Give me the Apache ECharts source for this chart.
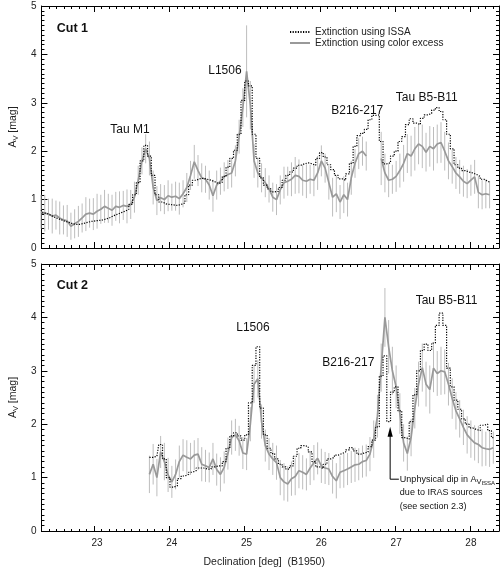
<!DOCTYPE html>
<html>
<head>
<meta charset="utf-8">
<script src="https://cdn.jsdelivr.net/npm/echarts@6/dist/echarts.min.js"></script>
<style>
  html, body { margin: 0; padding: 0; background: #fff; }
  #chart { width: 503px; height: 569px; }
</style>
</head>
<body>
<div id="chart"></div>
<script>
// sampling grid along the cut, declination (deg, B1950)
const decStep = 0.05;
const dec1Start = 22.25;
const dec2Start = 23.70;

// Cut 1: A_V from ISSA (dotted) and from color excess (grey, with errors)
const issa1 = [
  0.78, 0.72, 0.68, 0.64, 0.61, 0.58, 0.55, 0.53, 0.50, 0.49,
  0.49, 0.51, 0.53, 0.55, 0.56, 0.57, 0.58, 0.60, 0.63, 0.67,
  0.70, 0.73, 0.76, 0.80, 0.90, 1.10, 1.35, 1.80, 2.12, 1.90,
  1.50, 1.10, 0.95, 0.91, 0.90, 0.89, 0.88, 0.90, 0.93, 1.10,
  1.30, 1.40, 1.43, 1.44, 1.42, 1.40, 1.37, 1.33, 1.36, 1.48,
  1.67, 1.85, 2.02, 2.35, 3.05, 3.45, 3.35, 2.35, 1.85, 1.45,
  1.30, 1.22, 1.16, 1.17, 1.25, 1.40, 1.50, 1.57, 1.65, 1.71,
  1.74, 1.76, 1.74, 1.71, 1.85, 1.97, 1.88, 1.72, 1.62, 1.50,
  1.43, 1.40, 1.53, 1.75, 2.10, 2.32, 2.37, 2.45, 2.65, 2.74,
  2.75, 2.20, 1.74, 1.76, 1.90, 2.00, 2.20, 2.30, 2.55, 2.67,
  2.58, 2.55, 2.68, 2.75, 2.78, 2.85, 2.90, 2.82, 2.65, 2.35,
  2.05, 1.72, 1.65, 1.60, 1.57, 1.55, 1.52, 1.48, 1.42, 1.38,
  1.36
];
const cx1 = [
  0.75, 0.72, 0.70, 0.66, 0.68, 0.62, 0.58, 0.56, 0.45, 0.50,
  0.55, 0.62, 0.70, 0.72, 0.70, 0.76, 0.80, 0.86, 0.82, 0.78,
  0.86, 0.84, 0.88, 0.86, 0.90, 1.05, 1.40, 1.80, 2.05, 1.85,
  1.25, 0.98, 1.04, 1.00, 1.08, 1.05, 1.07, 1.02, 1.12, 1.25,
  1.50, 1.78, 1.60, 1.45, 1.42, 1.30, 1.08, 1.30, 1.38, 1.47,
  1.52, 1.55, 1.80, 2.30, 2.90, 3.65, 2.95, 1.80, 1.55, 1.45,
  1.35, 1.22, 1.05, 1.00, 1.20, 1.35, 1.38, 1.42, 1.50, 1.48,
  1.40, 1.38, 1.42, 1.40, 1.55, 1.80, 1.65, 1.35, 1.05, 1.12,
  0.95, 1.10, 1.00, 1.45, 1.75, 1.95, 2.00, 1.90, null, null,
  null, 1.85, 1.55, 1.40, 1.42, 1.48, 1.60, 1.75, 1.95, 1.90,
  2.05, 2.15, 2.10, 1.98, 2.10, 2.05, 2.15, 2.18, 2.00, 1.80,
  1.68, 1.55, 1.47, 1.38, 1.33, 1.40, 1.47, 1.15, 1.10, 1.12,
  1.10
];
const err1 = [
  0.35, 0.38, 0.32, 0.36, 0.30, 0.34, 0.30, 0.33, 0.28, 0.30,
  0.32, 0.30, 0.35, 0.30, 0.33, 0.36, 0.30, 0.34, 0.30, 0.32,
  0.30, 0.33, 0.30, 0.35, 0.30, 0.32, 0.30, 0.28, 0.30, 0.35,
  0.35, 0.30, 0.28, 0.30, 0.32, 0.28, 0.30, 0.33, 0.28, 0.30,
  0.30, 0.35, 0.32, 0.30, 0.28, 0.30, 0.33, 0.30, 0.28, 0.30,
  0.30, 0.30, 0.32, 0.35, 0.40, 0.95, 0.50, 0.35, 0.30, 0.30,
  0.30, 0.28, 0.30, 0.32, 0.30, 0.33, 0.30, 0.35, 0.38, 0.35,
  0.32, 0.35, 0.30, 0.33, 0.35, 0.32, 0.30, 0.35, 0.40, 0.38,
  0.35, 0.38, 0.35, 0.35, 0.30, 0.32, 0.30, 0.30, 0.30, 0.30,
  0.30, 0.55, 0.40, 0.35, 0.30, 0.32, 0.35, 0.38, 0.40, 0.42,
  0.45, 0.42, 0.45, 0.40, 0.42, 0.45, 0.40, 0.42, 0.40, 0.38,
  0.35, 0.33, 0.35, 0.32, 0.30, 0.32, 0.35, 0.33, 0.30, 0.30,
  0.28
];

// Cut 2
const issa2 = [
  1.38, 1.38, 1.40, 1.62, 1.35, 1.00, 0.82, 0.85, 0.98, 1.03,
  1.06, 1.10, 1.13, 1.18, 1.18, 1.16, 1.16, 1.20, 1.22, 1.22,
  1.30, 1.55, 1.78, 1.84, 1.78, 1.70, 1.80, 2.40, 3.10, 3.45,
  2.30, 1.80, 1.55, 1.45, 1.35, 1.25, 1.20, 1.16, 1.22, 1.40,
  1.55, 1.60, 1.58, 1.48, 1.30, 1.20, 1.17, 1.25, 1.35, 1.38,
  1.42, 1.45, 1.48, 1.52, 1.56, 1.50, 1.44, 1.46, 1.48, 1.58,
  1.70, 1.95, 2.90, 3.28, 2.05, 2.60, 2.70, 2.25, 1.75, 1.72,
  2.05, 2.55, 3.00, 3.38, 3.50, 3.38, 3.52, 3.85, 4.08, 3.85,
  3.05, 2.70, 2.45, 2.28, 2.10, 2.00, 1.93, 1.90, 1.88, 1.98,
  2.00, 1.88, 1.75
];
const cx2 = [
  1.06, 1.25, 1.00, 1.48, 1.30, 1.05, 0.92, 1.06, 1.30, 1.42,
  1.38, 1.35, 1.42, 1.44, 1.25, 1.22, 1.19, 1.35, 1.15, 1.06,
  1.19, 1.45, 1.75, 1.80, 1.69, 1.46, 1.44, 2.00, 2.75, 2.85,
  2.05, 1.60, 1.44, 1.35, 1.28, 1.00, 0.92, 0.88, 0.98, 1.02,
  1.13, 1.10, 1.06, 1.18, 1.28, 1.36, 1.22, 1.18, 1.16, 1.02,
  0.94, 1.10, 1.13, 1.16, 1.20, 1.24, 1.25, 1.30, 1.32, 1.44,
  1.72, 2.15, 3.06, 4.00, 3.45, 3.00, 2.70, 2.20, 1.65, 1.45,
  1.75, 2.30, 2.75, 3.06, 2.75, 2.65, 3.05, 2.95, 3.00, 2.98,
  2.75, 2.48, 2.25, 2.10, 1.94, 1.80, 1.72, 1.65, 1.62, 1.56,
  1.54, 1.53, 1.56
];
const err2 = [
  0.35, 0.38, 0.35, 0.30, 0.35, 0.32, 0.30, 0.28, 0.30, 0.30,
  0.32, 0.30, 0.28, 0.30, 0.32, 0.30, 0.28, 0.30, 0.30, 0.32,
  0.30, 0.30, 0.32, 0.30, 0.28, 0.30, 0.30, 0.32, 0.35, 0.35,
  0.32, 0.30, 0.30, 0.30, 0.32, 0.33, 0.35, 0.33, 0.32, 0.35,
  0.33, 0.32, 0.30, 0.32, 0.33, 0.30, 0.32, 0.30, 0.30, 0.32,
  0.33, 0.30, 0.32, 0.30, 0.30, 0.32, 0.30, 0.30, 0.30, 0.32,
  0.35, 0.40, 0.45, 0.55, 0.50, 0.45, 0.40, 0.38, 0.35, 0.32,
  0.35, 0.38, 0.42, 0.45, 0.42, 0.45, 0.45, 0.42, 0.45, 0.42,
  0.40, 0.38, 0.35, 0.35, 0.33, 0.35, 0.35, 0.33, 0.35, 0.35,
  0.32, 0.33, 0.30
];

const xLabels = [23, 24, 25, 26, 27, 28];

const X_MIN = 22.256, X_MAX = 28.376;
const FONT = '"Liberation Sans", Arial, sans-serif';

// panel boxes
const PLOT_LEFT = 38, PLOT_WIDTH = 461;
const panels = [
  { top: 6, height: 242 },
  { top: 264, height: 268 }
];
const pxPerDeg = PLOT_WIDTH / (X_MAX - X_MIN);

// tick rows. Each row is its own axis whose min sits on a tick; the axis is
// pulled inside the box by its tick length (negative offset) so that the
// outward ticks read as inward ticks on the frame.
const xTickRows = [
  { min: 23, max: 28, interval: 1, len: 6 },
  { min: 22.3, max: 28.3, interval: 0.1, len: 3 }
];
const yTickRows = [
  { interval: 1, len: 6 },
  { interval: 0.1, len: 3 }
];

function decGrid(start, n) {
  const out = [];
  for (let i = 0; i < n; i++) out.push(+(start + i * decStep).toFixed(2));
  return out;
}

const grids = [];
const xAxes = [];
const yAxes = [];
const mainX = [], mainY = [];
const frame = { show: true, onZero: false, lineStyle: { color: '#000', width: 1 } };
const tickOnly = len => ({ show: true, inside: false, length: len, lineStyle: { color: '#000', width: 1 } });

panels.forEach((p, pi) => {
  const gi = grids.length;
  grids.push({ left: PLOT_LEFT, top: p.top, width: PLOT_WIDTH, height: p.height });
  ['bottom', 'top'].forEach((pos, si) => {
    if (si === 0) mainX.push(xAxes.length);
    xAxes.push({
      type: 'value', gridIndex: gi, position: pos, min: X_MIN, max: X_MAX,
      axisLine: frame, axisTick: { show: false }, splitLine: { show: false },
      axisLabel: { show: pi === 1 && si === 0, customValues: xLabels, color: '#222',
                   fontSize: 10, fontFamily: FONT, margin: 7 }
    });
  });
  ['left', 'right'].forEach((pos, si) => {
    if (si === 0) mainY.push(yAxes.length);
    yAxes.push({
      type: 'value', gridIndex: gi, position: pos, min: 0, max: 5, interval: 1,
      axisLine: frame, axisTick: { show: false }, splitLine: { show: false },
      axisLabel: { show: si === 0, color: '#222', fontSize: 10, fontFamily: FONT, margin: 5 }
    });
    yTickRows.forEach(row => {
      yAxes.push({
        type: 'value', gridIndex: gi, position: pos, offset: -row.len,
        min: 0, max: 5, interval: row.interval,
        axisLine: { show: false }, splitLine: { show: false }, axisLabel: { show: false },
        axisTick: tickOnly(row.len)
      });
    });
  });
  // helper grids for the x tick rows, same vertical extent as the panel
  xTickRows.forEach(row => {
    const hg = grids.length;
    grids.push({
      left: PLOT_LEFT + (row.min - X_MIN) * pxPerDeg,
      width: (row.max - row.min) * pxPerDeg,
      top: p.top, height: p.height
    });
    ['bottom', 'top'].forEach(pos => {
      xAxes.push({
        type: 'value', gridIndex: hg, position: pos, offset: -row.len,
        min: row.min, max: row.max, interval: row.interval,
        axisLine: { show: false }, splitLine: { show: false }, axisLabel: { show: false },
        axisTick: tickOnly(row.len)
      });
    });
    yAxes.push({ type: 'value', gridIndex: hg, min: 0, max: 5, show: false });
  });
});

xAxes[mainX[1]].name = 'Declination [deg]  (B1950)';
xAxes[mainX[1]].nameLocation = 'middle';
xAxes[mainX[1]].nameGap = 26;
xAxes[mainX[1]].nameTextStyle = { fontSize: 10.5, color: '#222', fontFamily: FONT, padding: [0, 12, 0, 0] };
mainY.forEach(i => {
  yAxes[i].name = 'A{v|V} [mag]';
  yAxes[i].nameLocation = 'middle';
  yAxes[i].nameRotate = 90;
  yAxes[i].nameGap = 21;
  yAxes[i].nameTextStyle = {
    fontSize: 10.5, color: '#222', fontFamily: FONT,
    rich: { v: { fontSize: 7.5, fontFamily: FONT, color: '#222', padding: [5, 0, 0, 0] } }
  };
});

function pairs(xs, ys) {
  return xs.map((x, i) => [x, ys[i]]);
}
function errBars(xs, ys, es) {
  const out = [];
  xs.forEach((x, i) => {
    if (ys[i] == null) return;
    out.push([x, +(ys[i] - es[i]).toFixed(3), +(ys[i] + es[i]).toFixed(3)]);
  });
  return out;
}

function panelSeries(pi, xs, issa, cx, err, withNames) {
  const ax = { xAxisIndex: mainX[pi], yAxisIndex: mainY[pi] };
  return [
    Object.assign({
      type: 'custom',
      z: 1, silent: true,
      encode: { x: 0, y: [1, 2] },
      data: errBars(xs, cx, err),
      renderItem: function (params, api) {
        const x = api.value(0);
        const p1 = api.coord([x, api.value(1)]);
        const p2 = api.coord([x, api.value(2)]);
        return {
          type: 'line',
          shape: { x1: p1[0], y1: p1[1], x2: p2[0], y2: p2[1] },
          style: { stroke: '#bdbdbd', lineWidth: 1 }
        };
      }
    }, ax),
    Object.assign({
      name: withNames ? 'Extinction using color excess' : 'cx2',
      type: 'line',
      z: 2, symbol: 'none', connectNulls: false,
      lineStyle: { color: '#999999', width: 1.7 },
      itemStyle: { color: '#999999' },
      data: pairs(xs, cx)
    }, ax),
    Object.assign({
      name: withNames ? 'Extinction using ISSA' : 'issa2',
      type: 'line',
      z: 3, symbol: 'none', step: 'middle',
      lineStyle: { color: '#000', width: 1.2, type: [1.2, 1.4] },
      itemStyle: { color: '#000' },
      data: pairs(xs, issa)
    }, ax)
  ];
}

const dec1 = decGrid(dec1Start, issa1.length);
const dec2 = decGrid(dec2Start, issa2.length);

const option = {
  animation: false,
  backgroundColor: '#fff',
  textStyle: { fontFamily: FONT },
  grid: grids,
  legend: {
    data: ['Extinction using ISSA', 'Extinction using color excess'],
    orient: 'vertical',
    left: 289, top: 27, padding: 0,
    itemWidth: 20, itemHeight: 8, itemGap: 1,
    itemStyle: { opacity: 0 },
    textStyle: { fontSize: 10, color: '#222', fontFamily: FONT }
  },
  xAxis: xAxes,
  yAxis: yAxes,
  series: panelSeries(0, dec1, issa1, cx1, err1, true)
    .concat(panelSeries(1, dec2, issa2, cx2, err2, false))
};

const chart = echarts.init(document.getElementById('chart'));
chart.setOption(option);

// annotations, anchored in data coordinates
const notes = [
  { p: 0, at: [22.46, 4.53], text: 'Cut 1', bold: true, align: 'left' },
  { p: 0, at: [23.44, 2.45], text: 'Tau M1' },
  { p: 0, at: [24.71, 3.66], text: 'L1506' },
  { p: 0, at: [26.48, 2.83], text: 'B216-217' },
  { p: 0, at: [27.41, 3.11], text: 'Tau B5-B11' },
  { p: 1, at: [22.46, 4.59], text: 'Cut 2', bold: true, align: 'left' },
  { p: 1, at: [25.085, 3.80], text: 'L1506' },
  { p: 1, at: [26.36, 3.15], text: 'B216-217' },
  { p: 1, at: [27.675, 4.31], text: 'Tau B5-B11' }
];
const dipNote = [
  'Unphysical dip in A{s1|V}{s2|ISSA}',
  'due to IRAS sources',
  '(see section 2.3)'
];
const arrowDec = 26.92, arrowTip = 1.95, arrowFoot = 0.97, noteDec = 27.05;

const toPx = (pi, v) => chart.convertToPixel({ xAxisIndex: mainX[pi], yAxisIndex: mainY[pi] }, v);
const graphics = notes.map(n => {
  const q = toPx(n.p, n.at);
  return {
    type: 'text', x: q[0], y: q[1], z: 10,
    style: {
      text: n.text, fill: '#111',
      font: (n.bold ? 'bold 12.5px ' : '12px ') + FONT,
      align: n.align || 'center', verticalAlign: 'middle'
    }
  };
});
const tip = toPx(1, [arrowDec, arrowTip]);
const foot = toPx(1, [arrowDec, arrowFoot]);
const noteAt = toPx(1, [noteDec, arrowFoot]);
graphics.push(
  { type: 'line', z: 10, shape: { x1: tip[0], y1: tip[1] + 8, x2: foot[0], y2: foot[1] },
    style: { stroke: '#000', lineWidth: 1 } },
  { type: 'line', z: 10, shape: { x1: foot[0], y1: foot[1], x2: noteAt[0] - 1, y2: foot[1] },
    style: { stroke: '#000', lineWidth: 1 } },
  { type: 'polygon', z: 10,
    shape: { points: [[tip[0], tip[1]], [tip[0] - 2.6, tip[1] + 10], [tip[0] + 2.6, tip[1] + 10]] },
    style: { fill: '#000' } }
);
dipNote.forEach((txt, i) => {
  graphics.push({
    type: 'text', z: 10, x: noteAt[0], y: noteAt[1] + i * 13.5,
    style: {
      text: txt, fill: '#111', font: '9px ' + FONT,
      align: 'left', verticalAlign: 'middle',
      rich: {
        s1: { fontSize: 7.5, fontFamily: FONT, fill: '#111', padding: [5, 0, 0, 0] },
        s2: { fontSize: 6, fontFamily: FONT, fill: '#111', padding: [9, 0, 0, 0] }
      }
    }
  });
});
chart.setOption({ graphic: graphics });
</script>
</body>
</html>
